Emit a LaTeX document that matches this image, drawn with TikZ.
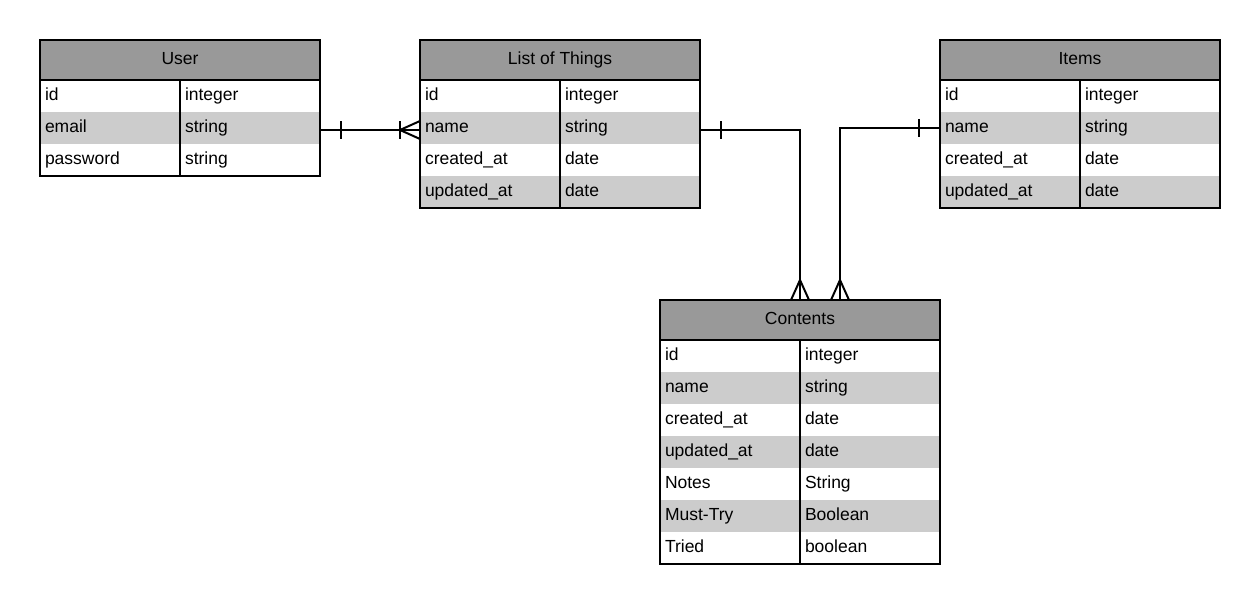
\documentclass[tikz,border=0pt]{standalone}
\usepackage{fontspec}
\setmainfont{Liberation Sans}
\usepackage{tikz}
\usetikzlibrary{decorations.markings}

\definecolor{hdrgray}{RGB}{153,153,153}
\definecolor{rowgray}{RGB}{204,204,204}

\tikzset{
  every node/.style={font=\fontsize{17.5}{21}\selectfont, outer sep=0pt, text height=12.5pt, text depth=3.5pt},
  hdr/.style={anchor=north west, fill=hdrgray, minimum width=280pt, minimum height=40pt, inner sep=0pt},
  cell/.style={anchor=north west, text width=130pt, inner xsep=5pt, inner ysep=0pt, minimum height=32pt},
  plainrow/.style={cell},
  greyrow/.style={cell, fill=rowgray},
  rel/.style={line width=2pt},
  onebar/.style={postaction={decorate, decoration={markings,
      mark=at position 21pt with {\draw (0,-9pt) -- (0,9pt);}}}},
  manyend/.style={postaction={decorate, decoration={markings,
      mark=at position -20pt with {\draw (20pt,9pt) -- (0,0) -- (20pt,-9pt);}}}},
  manybar/.style={postaction={decorate, decoration={markings,
      mark=at position -20pt with {\draw (0,-9pt) -- (0,9pt);}}}}
}

\begin{document}
\begin{tikzpicture}[x=1pt, y=-1pt, line width=2pt]
  \useasboundingbox (0,0) rectangle (1260,604);

  % User
  \node[hdr] (user) at (40,40) {User};
  \foreach \k/\t/\s [count=\i from 0] in {id/integer/plainrow, email/string/greyrow, password/string/plainrow}{
    \node[\s] (user-\i-k) at (40,80+32*\i) {\k};
    \node[\s] (user-\i-t) at (180,80+32*\i) {\t};
  }
  \draw (user.north west) rectangle (user-2-t.south east);
  \draw (user.south west) -- (user.south east);
  \draw (user-0-k.north east) -- (user-2-k.south east);

  % List of Things
  \node[hdr] (things) at (420,40) {List of Things};
  \foreach \k/\t/\s [count=\i from 0] in {id/integer/plainrow, name/string/greyrow, created\_at/date/plainrow, updated\_at/date/greyrow}{
    \node[\s] (things-\i-k) at (420,80+32*\i) {\k};
    \node[\s] (things-\i-t) at (560,80+32*\i) {\t};
  }
  \draw (things.north west) rectangle (things-3-t.south east);
  \draw (things.south west) -- (things.south east);
  \draw (things-0-k.north east) -- (things-3-k.south east);

  % Items
  \node[hdr] (items) at (940,40) {Items};
  \foreach \k/\t/\s [count=\i from 0] in {id/integer/plainrow, name/string/greyrow, created\_at/date/plainrow, updated\_at/date/greyrow}{
    \node[\s] (items-\i-k) at (940,80+32*\i) {\k};
    \node[\s] (items-\i-t) at (1080,80+32*\i) {\t};
  }
  \draw (items.north west) rectangle (items-3-t.south east);
  \draw (items.south west) -- (items.south east);
  \draw (items-0-k.north east) -- (items-3-k.south east);

  % Contents
  \node[hdr] (contents) at (660,300) {Contents};
  \foreach \k/\t/\s [count=\i from 0] in {id/integer/plainrow, name/string/greyrow, created\_at/date/plainrow, updated\_at/date/greyrow,
      Notes/String/plainrow, Must-Try/Boolean/greyrow, Tried/boolean/plainrow}{
    \node[\s] (contents-\i-k) at (660,340+32*\i) {\k};
    \node[\s] (contents-\i-t) at (800,340+32*\i) {\t};
  }
  \draw (contents.north west) rectangle (contents-6-t.south east);
  \draw (contents.south west) -- (contents.south east);
  \draw (contents-0-k.north east) -- (contents-6-k.south east);

  % relations
  \draw[rel, onebar, manyend, manybar] ([yshift=-2pt]user-1-t.east) -- ([yshift=-2pt]things-1-k.west);
  \draw[rel, onebar, manyend] ([yshift=-2pt]things-1-t.east) -| (contents.north);
  \draw[rel, onebar, manyend] (items-1-k.west) -| ([xshift=40pt]contents.north);
\end{tikzpicture}
\end{document}
